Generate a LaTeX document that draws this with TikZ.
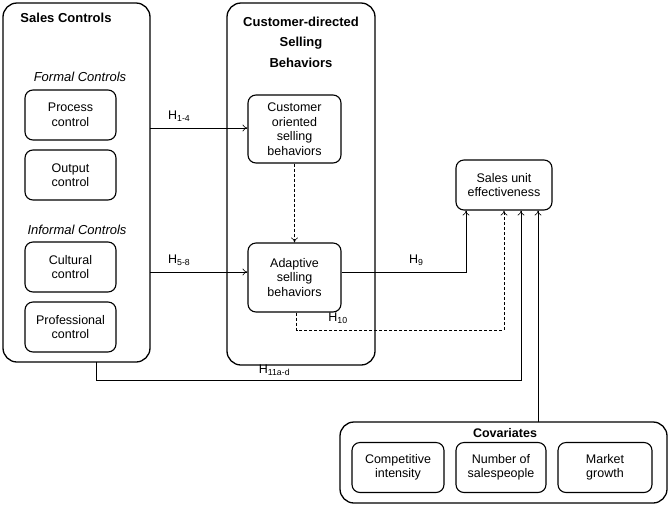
\documentclass[tikz,border=0pt]{standalone}
\usepackage{fontspec}
\setmainfont{Liberation Sans}
\usetikzlibrary{arrows.meta}
\begin{document}
\begin{tikzpicture}[x=1pt,y=-1pt,font=\fontsize{12.5}{14.5}\selectfont]

% Styles
\tikzset{
  group/.style={
    draw,
    line width=1.3pt,
    rectangle,
    rounded corners=14pt
  },
  item/.style={
    draw,
    line width=1.1pt,
    rectangle,
    rounded corners=8pt,
    minimum width=91pt,
    minimum height=50pt,
    align=center,
    inner sep=2pt
  },
  link/.style={
    -{To[length=5pt,width=7pt]},
    line width=0.6pt
  },
  weak/.style={
    link,
    densely dashed
  }
}

\useasboundingbox (0,0) rectangle (672,507);

% Groups
\draw[group] (3,3) rectangle (150,362);
\draw[group] (227,3) rectangle (375,365);
\draw[group] (340,422) rectangle (667,503);
\node (scbox) at (76.5,362) {};
\coordinate (scbot) at (96,362);
\coordinate (covtop) at (538,422);

% Titles
\node[font=\fontsize{13}{15}\selectfont\bfseries] at (66,18) {Sales Controls};
\node[font=\fontsize{13}{20.5}\selectfont\bfseries, align=center] at (301,42) {Customer-directed\\Selling\\Behaviors};
\node[font=\fontsize{12.5}{15}\selectfont\bfseries] at (505,433) {Covariates};
\node[font=\itshape\fontsize{13}{15}\selectfont] at (80,77) {Formal Controls};
\node[font=\itshape\fontsize{13}{15}\selectfont] at (77,230) {Informal Controls};

% Sales control nodes
\node[item] (proc) at (70.5,115) {Process\\control};
\node[item] (outp) at (70.5,175) {Output\\control};
\node[item] (cult) at (70.5,267) {Cultural\\control};
\node[item] (prof) at (70.5,327) {Professional\\control};

% Selling behaviors
\node[item, minimum width=93pt, minimum height=68pt] (cosb) at (294.5,129) {Customer\\oriented\\selling\\behaviors};
\node[item, minimum width=93pt, minimum height=69pt] (asb) at (294.5,277.5) {Adaptive\\selling\\behaviors};

% Outcome
\node[item, minimum width=96pt] (sue) at (504,185) {Sales unit\\effectiveness};

% Covariates
\node[item, minimum width=92pt] (comp) at (398,467.5) {Competitive\\intensity};
\node[item, minimum width=90pt] (nsp) at (501,467.5) {Number of\\salespeople};
\node[item, minimum width=94pt] (mkt) at (605,467.5) {Market\\growth};

% Links
\coordinate (s1) at (150,128);
\coordinate (s2) at (150,272);
\draw[link] (s1) -- (s1 -| cosb.west) node[pos=0.3, above=3pt] {H\textsubscript{1-4}};
\draw[link] (s2) -- (s2 -| asb.west) node[pos=0.3, above=3pt] {H\textsubscript{5-8}};
\draw[weak] (cosb) -- (asb);
\draw[link] (asb.east |- s2) -| ([xshift=-38pt]sue.south) node[pos=0.3, above=3pt] {H\textsubscript{9}};
\draw[weak] ([xshift=2pt]asb.south) |- (504,330) node[pos=0.6, above=3pt] {H\textsubscript{10}} -- (sue.south);
\draw[link] (scbot) |- (521,380) node[pos=0.71, above=1pt] {H\textsubscript{11a-d}} -- ([xshift=17pt]sue.south);
\draw[link] (covtop) -- ([xshift=34pt]sue.south);

\end{tikzpicture}
\end{document}
